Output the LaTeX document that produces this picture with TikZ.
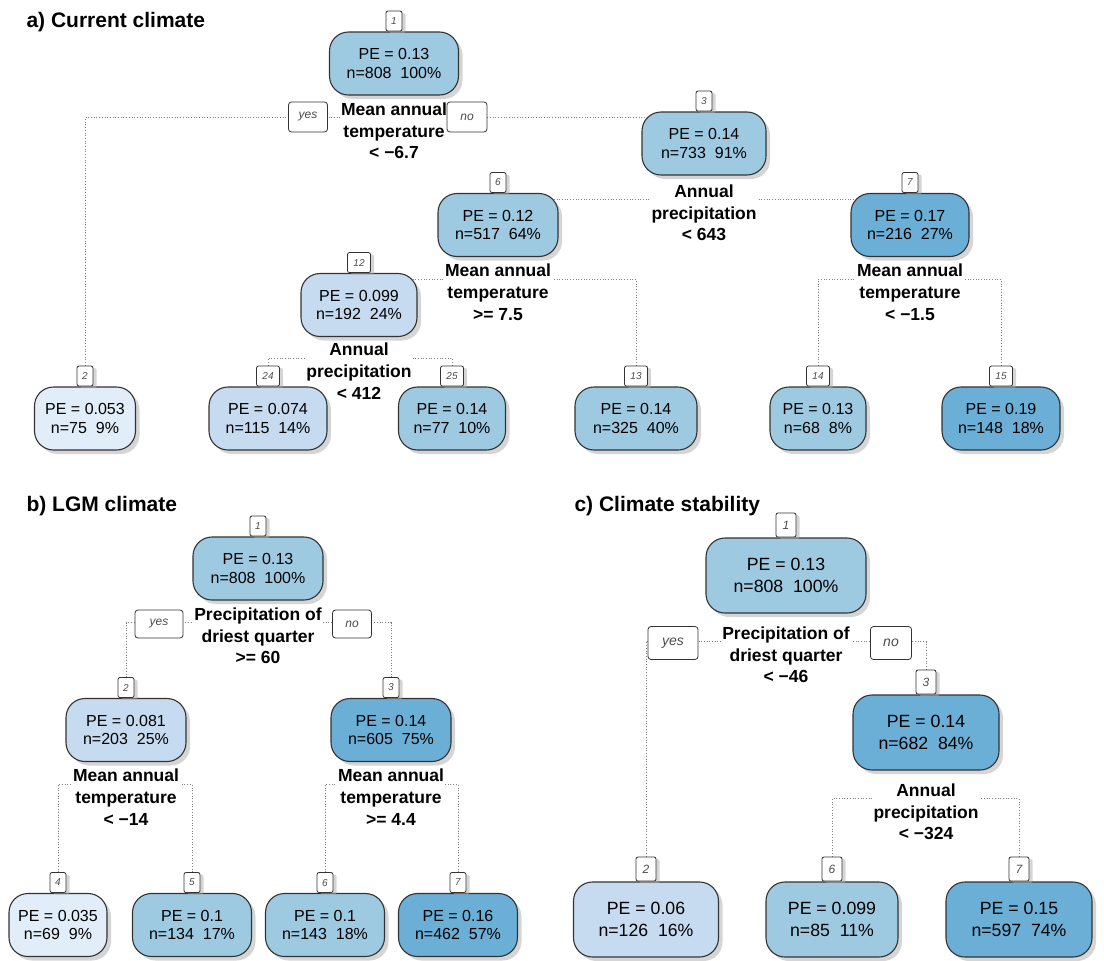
\documentclass[tikz,border=0pt]{standalone}
\usepackage{fontspec}
\setmainfont{Liberation Sans}
\pgfdeclarelayer{background layer}
\pgfsetlayers{background layer,main}
\usetikzlibrary{positioning}
\usetikzlibrary{shadows}
\definecolor{BlueVL}{HTML}{E1EDF8}
\definecolor{BlueL}{HTML}{C6DBEF}
\definecolor{BlueM}{HTML}{9ECAE1}
\definecolor{BlueD}{HTML}{6BAED6}
\tikzstyle{Title}    = [anchor=west, font=\fontsize{21}{24}\selectfont\bfseries]
\tikzstyle{TreeNode} = [rectangle, rounded corners=19pt, draw=black!80, line width=1.1pt, align=center,
                        minimum height=63pt, font=\fontsize{16}{18.5}\selectfont,
                        drop shadow={shadow xshift=4pt, shadow yshift=-4pt, fill=black!33}]
\tikzstyle{BigNode}  = [TreeNode, minimum height=75pt, font=\fontsize{17.7}{21.3}\selectfont]
\tikzstyle{NumBox}   = [rectangle, rounded corners=2pt, draw=black!80, fill=white, line width=0.8pt,
                        minimum width=16pt, minimum height=20pt, inner sep=1pt, text=black!70,
                        font=\fontsize{10}{12}\selectfont\itshape,
                        drop shadow={shadow xshift=3.5pt, shadow yshift=-2pt, fill=black!33}]
\tikzstyle{BigNum}   = [NumBox, minimum width=20pt, minimum height=24pt, font=\fontsize{12}{14}\selectfont\itshape]
\tikzstyle{Split}    = [align=center, fill=white, inner sep=1pt, font=\fontsize{17.5}{21.7}\selectfont\bfseries]
\tikzstyle{YesNo}    = [rectangle, rounded corners=3pt, draw=black!80, fill=white, line width=0.8pt,
                        minimum height=30pt, text=black!70, font=\fontsize{12}{14}\selectfont\itshape]
\tikzstyle{BigYesNo} = [YesNo, minimum height=33pt, font=\fontsize{14}{16}\selectfont\itshape]
\tikzstyle{Edge}     = [draw=black!50, line width=0.9pt, dash pattern=on 0.9pt off 1.8pt]

\begin{document}
\begin{tikzpicture}[x=1pt, y=-1pt]
\useasboundingbox (0,0) rectangle (1104,961);

%% ------------------------------------------------------------ [ a) Current ]
\node (atitle) [Title] at (23,22) {a) Current climate};

\node (a1) [TreeNode, fill=BlueM, minimum width=129pt] at (394,63.5) {PE = 0.13\\n=808\ \ 100\%};
\node (a1n) [NumBox, above=0pt of a1] {1};
\node (a1s) [Split, below=6pt of a1] {Mean annual\\temperature\\< −6.7};
\node (a1yes) [YesNo, minimum width=39pt] at (308,117) {yes};
\node (a1no) [YesNo, minimum width=40pt] at (467,117) {no};

\node (a3) [TreeNode, fill=BlueM, minimum width=124pt] at (704,143.5) {PE = 0.14\\n=733\ \ 91\%};
\node (a3n) [NumBox, above=0pt of a3] {3};
\node (a3s) [Split, below=8pt of a3] {Annual\\precipitation\\< 643};

\node (a6) [TreeNode, fill=BlueM, minimum width=120pt] at (498,225) {PE = 0.12\\n=517\ \ 64\%};
\node (a6n) [NumBox, above=0pt of a6] {6};
\node (a6s) [Split, below=6pt of a6] {Mean annual\\temperature\\>= 7.5};

\node (a7) [TreeNode, fill=BlueD, minimum width=118pt] at (910,225) {PE = 0.17\\n=216\ \ 27\%};
\node (a7n) [NumBox, above=0pt of a7] {7};
\node (a7s) [Split, below=6pt of a7] {Mean annual\\temperature\\< −1.5};

\node (a12) [TreeNode, fill=BlueL, minimum width=116pt] at (359,305) {PE = 0.099\\n=192\ \ 24\%};
\node (a12n) [NumBox, minimum width=23pt, above=0pt of a12] {12};
\node (a12s) [Split, below=5pt of a12] {Annual\\precipitation\\< 412};

\node (a2) [TreeNode, fill=BlueVL, minimum width=101pt] at (85,418.5) {PE = 0.053\\n=75\ \ 9\%};
\node (a2n) [NumBox, above=0pt of a2] {2};
\node (a24) [TreeNode, fill=BlueL, minimum width=118pt] at (268,418.5) {PE = 0.074\\n=115\ \ 14\%};
\node (a24n) [NumBox, minimum width=23pt, above=0pt of a24] {24};
\node (a25) [TreeNode, fill=BlueM, minimum width=107pt] at (452,418.5) {PE = 0.14\\n=77\ \ 10\%};
\node (a25n) [NumBox, minimum width=23pt, above=0pt of a25] {25};
\node (a13) [TreeNode, fill=BlueM, minimum width=122pt] at (636,418.5) {PE = 0.14\\n=325\ \ 40\%};
\node (a13n) [NumBox, minimum width=23pt, above=0pt of a13] {13};
\node (a14) [TreeNode, fill=BlueM, minimum width=96pt] at (818,418.5) {PE = 0.13\\n=68\ \ 8\%};
\node (a14n) [NumBox, minimum width=23pt, above=0pt of a14] {14};
\node (a15) [TreeNode, fill=BlueD, minimum width=118pt] at (1001,418.5) {PE = 0.19\\n=148\ \ 18\%};
\node (a15n) [NumBox, minimum width=23pt, above=0pt of a15] {15};

%% ---------------------------------------------------------------- [ b) LGM ]
\node (btitle) [Title] at (23,506) {b) LGM climate};

\node (b1) [TreeNode, fill=BlueM, minimum width=130pt] at (258,568.5) {PE = 0.13\\n=808\ \ 100\%};
\node (b1n) [NumBox, above=0pt of b1] {1};
\node (b1s) [Split, below=6pt of b1] {Precipitation of\\driest quarter\\>= 60};
\node (b1yes) [YesNo, minimum width=48pt, minimum height=28pt] at (159,624) {yes};
\node (b1no) [YesNo, minimum width=39pt, minimum height=28pt] at (352,624) {no};

\node (b2) [TreeNode, fill=BlueL, minimum width=120pt] at (126,730) {PE = 0.081\\n=203\ \ 25\%};
\node (b2n) [NumBox, above=0pt of b2] {2};
\node (b2s) [Split, below=6pt of b2] {Mean annual\\temperature\\< −14};

\node (b3) [TreeNode, fill=BlueD, minimum width=120pt] at (391,730) {PE = 0.14\\n=605\ \ 75\%};
\node (b3n) [NumBox, above=0pt of b3] {3};
\node (b3s) [Split, below=6pt of b3] {Mean annual\\temperature\\>= 4.4};

\node (b4) [TreeNode, fill=BlueVL, minimum width=98pt] at (58,925) {PE = 0.035\\n=69\ \ 9\%};
\node (b4n) [NumBox, above=0pt of b4] {4};
\node (b5) [TreeNode, fill=BlueM, minimum width=119pt] at (192,925) {PE = 0.1\\n=134\ \ 17\%};
\node (b5n) [NumBox, above=0pt of b5] {5};
\node (b6) [TreeNode, fill=BlueM, minimum width=119pt] at (325,925) {PE = 0.1\\n=143\ \ 18\%};
\node (b6n) [NumBox, above=0pt of b6] {6};
\node (b7) [TreeNode, fill=BlueD, minimum width=119pt] at (458,925) {PE = 0.16\\n=462\ \ 57\%};
\node (b7n) [NumBox, above=0pt of b7] {7};

%% ---------------------------------------------------------- [ c) Stability ]
\node (ctitle) [Title] at (571,506) {c) Climate stability};

\node (c1) [BigNode, fill=BlueM, minimum width=160pt] at (786,575.5) {PE = 0.13\\n=808\ \ 100\%};
\node (c1n) [BigNum, above=0pt of c1] {1};
\node (c1s) [Split, below=12pt of c1] {Precipitation of\\driest quarter\\< −46};
\node (c1yes) [BigYesNo, minimum width=50pt] at (673,643) {yes};
\node (c1no) [BigYesNo, minimum width=41pt] at (891,643) {no};

\node (c3) [BigNode, fill=BlueD, minimum width=146pt] at (926,732.5) {PE = 0.14\\n=682\ \ 84\%};
\node (c3n) [BigNum, above=0pt of c3] {3};
\node (c3s) [Split, below=12pt of c3] {Annual\\precipitation\\< −324};

\node (c2) [BigNode, fill=BlueL, minimum width=145pt] at (646,919.5) {PE = 0.06\\n=126\ \ 16\%};
\node (c2n) [BigNum, above=0pt of c2] {2};
\node (c6) [BigNode, fill=BlueM, minimum width=132pt] at (832,919.5) {PE = 0.099\\n=85\ \ 11\%};
\node (c6n) [BigNum, above=0pt of c6] {6};
\node (c7) [BigNode, fill=BlueD, minimum width=146pt] at (1019,919.5) {PE = 0.15\\n=597\ \ 74\%};
\node (c7n) [BigNum, above=0pt of c7] {7};

%% ------------------------------------------------------------------ [ Edges ]
\begin{pgfonlayer}{background layer}
\foreach \from/\to in {a1s/a2n, a1s/a3n, a3s/a6n, a3s/a7n, a6s/a12n, a6s/a13n,
                       a7s/a14n, a7s/a15n, a12s/a24n, a12s/a25n,
                       b1s/b2n, b1s/b3n, b2s/b4n, b2s/b5n, b3s/b6n, b3s/b7n,
                       c1s/c2n, c1s/c3n, c3s/c6n, c3s/c7n}
  \draw [Edge] (\to.north) |- ([yshift=13pt]\from.center);
\end{pgfonlayer}
\end{tikzpicture}
\end{document}
